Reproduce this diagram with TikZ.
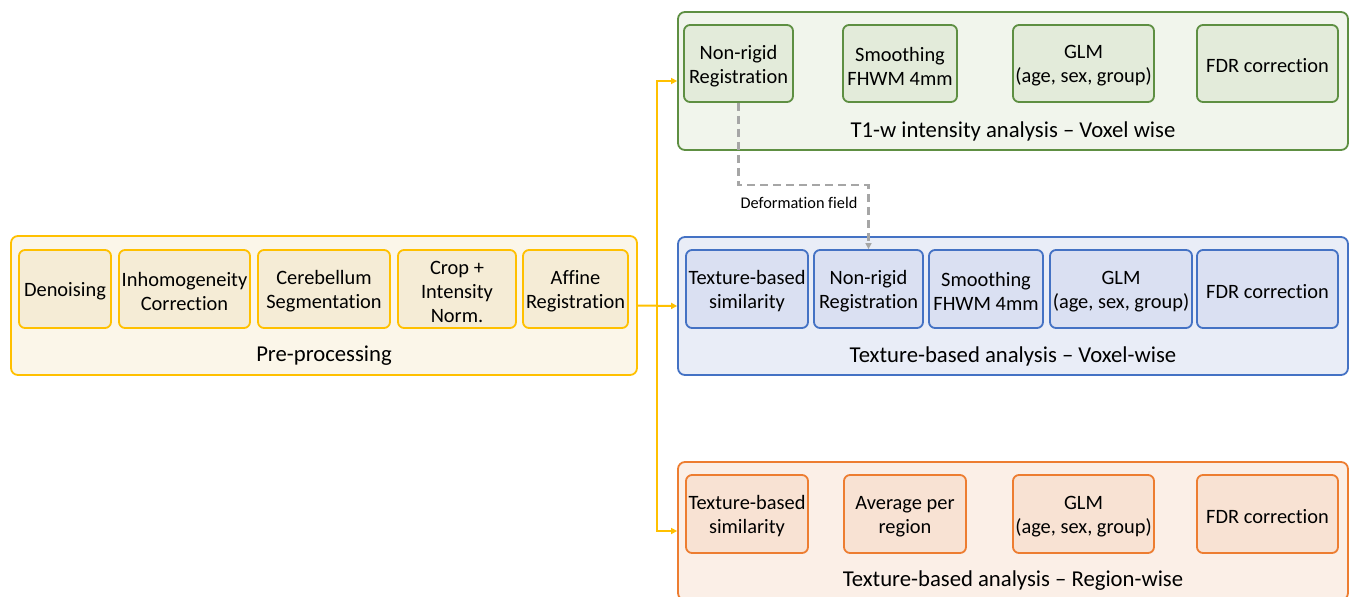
\documentclass[tikz,border=0pt]{standalone}
\usepackage{fontspec}
\setmainfont{Carlito}[RawFeature={-liga}]
\usetikzlibrary{arrows.meta}
\definecolor{gold}{HTML}{FFC000}
\definecolor{pout}{HTML}{FBF6E9}
\definecolor{pin}{HTML}{F5ECD6}
\definecolor{gline}{HTML}{5E8F42}
\definecolor{gout}{HTML}{F1F5EC}
\definecolor{gin}{HTML}{E3EBDA}
\definecolor{bline}{HTML}{4472C4}
\definecolor{bout}{HTML}{E9EDF7}
\definecolor{bin}{HTML}{DAE0F2}
\definecolor{oline}{HTML}{ED7D31}
\definecolor{oout}{HTML}{FBEFE7}
\definecolor{oin}{HTML}{F8E2D3}
\definecolor{dgray}{HTML}{A6A6A6}
\tikzset{
  outerbox/.style={draw, line width=1.8pt, rounded corners=7pt, minimum height=138pt, minimum width=670pt, inner sep=0pt},
  innerbox/.style={draw, line width=1.8pt, rounded corners=6pt, minimum height=78pt, inner sep=0pt},
  boxtext/.style={font=\fontsize{20.4}{24}\selectfont, align=center, inner sep=0pt, yshift=-2.5pt},
  grouplabel/.style={font=\fontsize{22.7}{26}\selectfont, inner sep=0pt},
  preo/.style={outerbox, draw=gold, fill=pout},
  prei/.style={innerbox, draw=gold, fill=pin},
  greo/.style={outerbox, draw=gline, fill=gout},
  grei/.style={innerbox, draw=gline, fill=gin},
  bluo/.style={outerbox, draw=bline, fill=bout},
  blui/.style={innerbox, draw=bline, fill=bin},
  orao/.style={outerbox, draw=oline, fill=oout},
  orai/.style={innerbox, draw=oline, fill=oin},
  conn/.style={draw=gold, line width=2pt, -{Triangle[length=6pt,width=6pt]}},
  defconn/.style={draw=dgray, line width=2.2pt, dash pattern=on 8pt off 5pt, -{Triangle[length=6pt,width=6pt]}},
}
\begin{document}
\begin{tikzpicture}[x=1pt,y=-1pt]
\useasboundingbox (0,0) rectangle (1352,597);
% Pre-processing
\node[preo, minimum width=626pt, minimum height=139pt] (pre) at (324,305.5) {};
\node[prei, minimum width=92pt, label={[boxtext]center:Denoising}] (den) at (65,289) {};
\node[prei, minimum width=131pt, label={[boxtext]center:{Inhomogeneity\\Correction}}] (inh) at (184.5,289) {};
\node[prei, minimum width=132pt, label={[boxtext]center:{Cerebellum\\Segmentation}}] (cer) at (324,289) {};
\node[prei, minimum width=118pt, label={[boxtext]center:{Crop +\\Intensity\\Norm.}}] (crop) at (457,289) {};
\node[prei, minimum width=105pt, label={[boxtext]center:{Affine\\Registration}}] (aff) at (575.5,289) {};
\node[grouplabel] (prel) at (324,356) {Pre-processing};
% T1 intensity
\node[greo] (t1) at (1013,81) {};
\node[grei, minimum width=109pt, minimum height=77pt, label={[boxtext]center:{Non-rigid\\Registration}}] (t1nr) at (738.5,63.5) {};
\node[grei, minimum width=114pt, minimum height=77pt, label={[boxtext]center:{Smoothing\\FHWM 4mm}}] (t1sm) at (900,63.5) {};
\node[grei, minimum width=141pt, minimum height=77pt, label={[boxtext]center:{GLM\\(age, sex, group)}}] (t1glm) at (1083.5,63.5) {};
\node[grei, minimum width=141pt, minimum height=77pt, label={[boxtext]center:{FDR correction}}] (t1fdr) at (1267.5,63.5) {};
\node[grouplabel] (t1l) at (1013,131) {T1-w intensity analysis – Voxel wise};
% Texture voxel-wise
\node[bluo] (tex) at (1013,306) {};
\node[blui, minimum width=122pt, label={[boxtext]center:{Texture-based\\similarity}}] (txsim) at (747,289) {};
\node[blui, minimum width=109pt, label={[boxtext]center:{Non-rigid\\Registration}}] (txnr) at (868.5,289) {};
\node[blui, minimum width=114pt, label={[boxtext]center:{Smoothing\\FHWM 4mm}}] (txsm) at (986,289) {};
\node[blui, minimum width=142pt, label={[boxtext]center:{GLM\\(age, sex, group)}}] (txglm) at (1121,289) {};
\node[blui, minimum width=141pt, label={[boxtext]center:{FDR correction}}] (txfdr) at (1267.5,289) {};
\node[grouplabel] (texl) at (1013,356) {Texture-based analysis – Voxel-wise};
% Texture region-wise
\node[orao] (reg) at (1013,531) {};
\node[orai, minimum width=122pt, label={[boxtext]center:{Texture-based\\similarity}}] (rgsim) at (747,514) {};
\node[orai, minimum width=122pt, label={[boxtext]center:{Average per\\region}}] (rgavg) at (905,514) {};
\node[orai, minimum width=141pt, label={[boxtext]center:{GLM\\(age, sex, group)}}] (rgglm) at (1083.5,514) {};
\node[orai, minimum width=141pt, label={[boxtext]center:{FDR correction}}] (rgfdr) at (1267.5,514) {};
\node[grouplabel] (regl) at (1013,581) {Texture-based analysis – Region-wise};
% connectors
\coordinate (bus) at (657,305.5);
\draw[conn] (pre.east) -- (tex.west);
\draw[conn] (bus) |- (t1.west);
\draw[conn] (bus) |- (reg.west);
\coordinate (dbend) at (738.5,185);
\draw[defconn] (t1nr.south) -- (dbend) -| (txnr.north);
\node[font=\fontsize{16.3}{19}\selectfont, inner sep=0pt] (dfl) at (799,203) {Deformation field};
\end{tikzpicture}
\end{document}
